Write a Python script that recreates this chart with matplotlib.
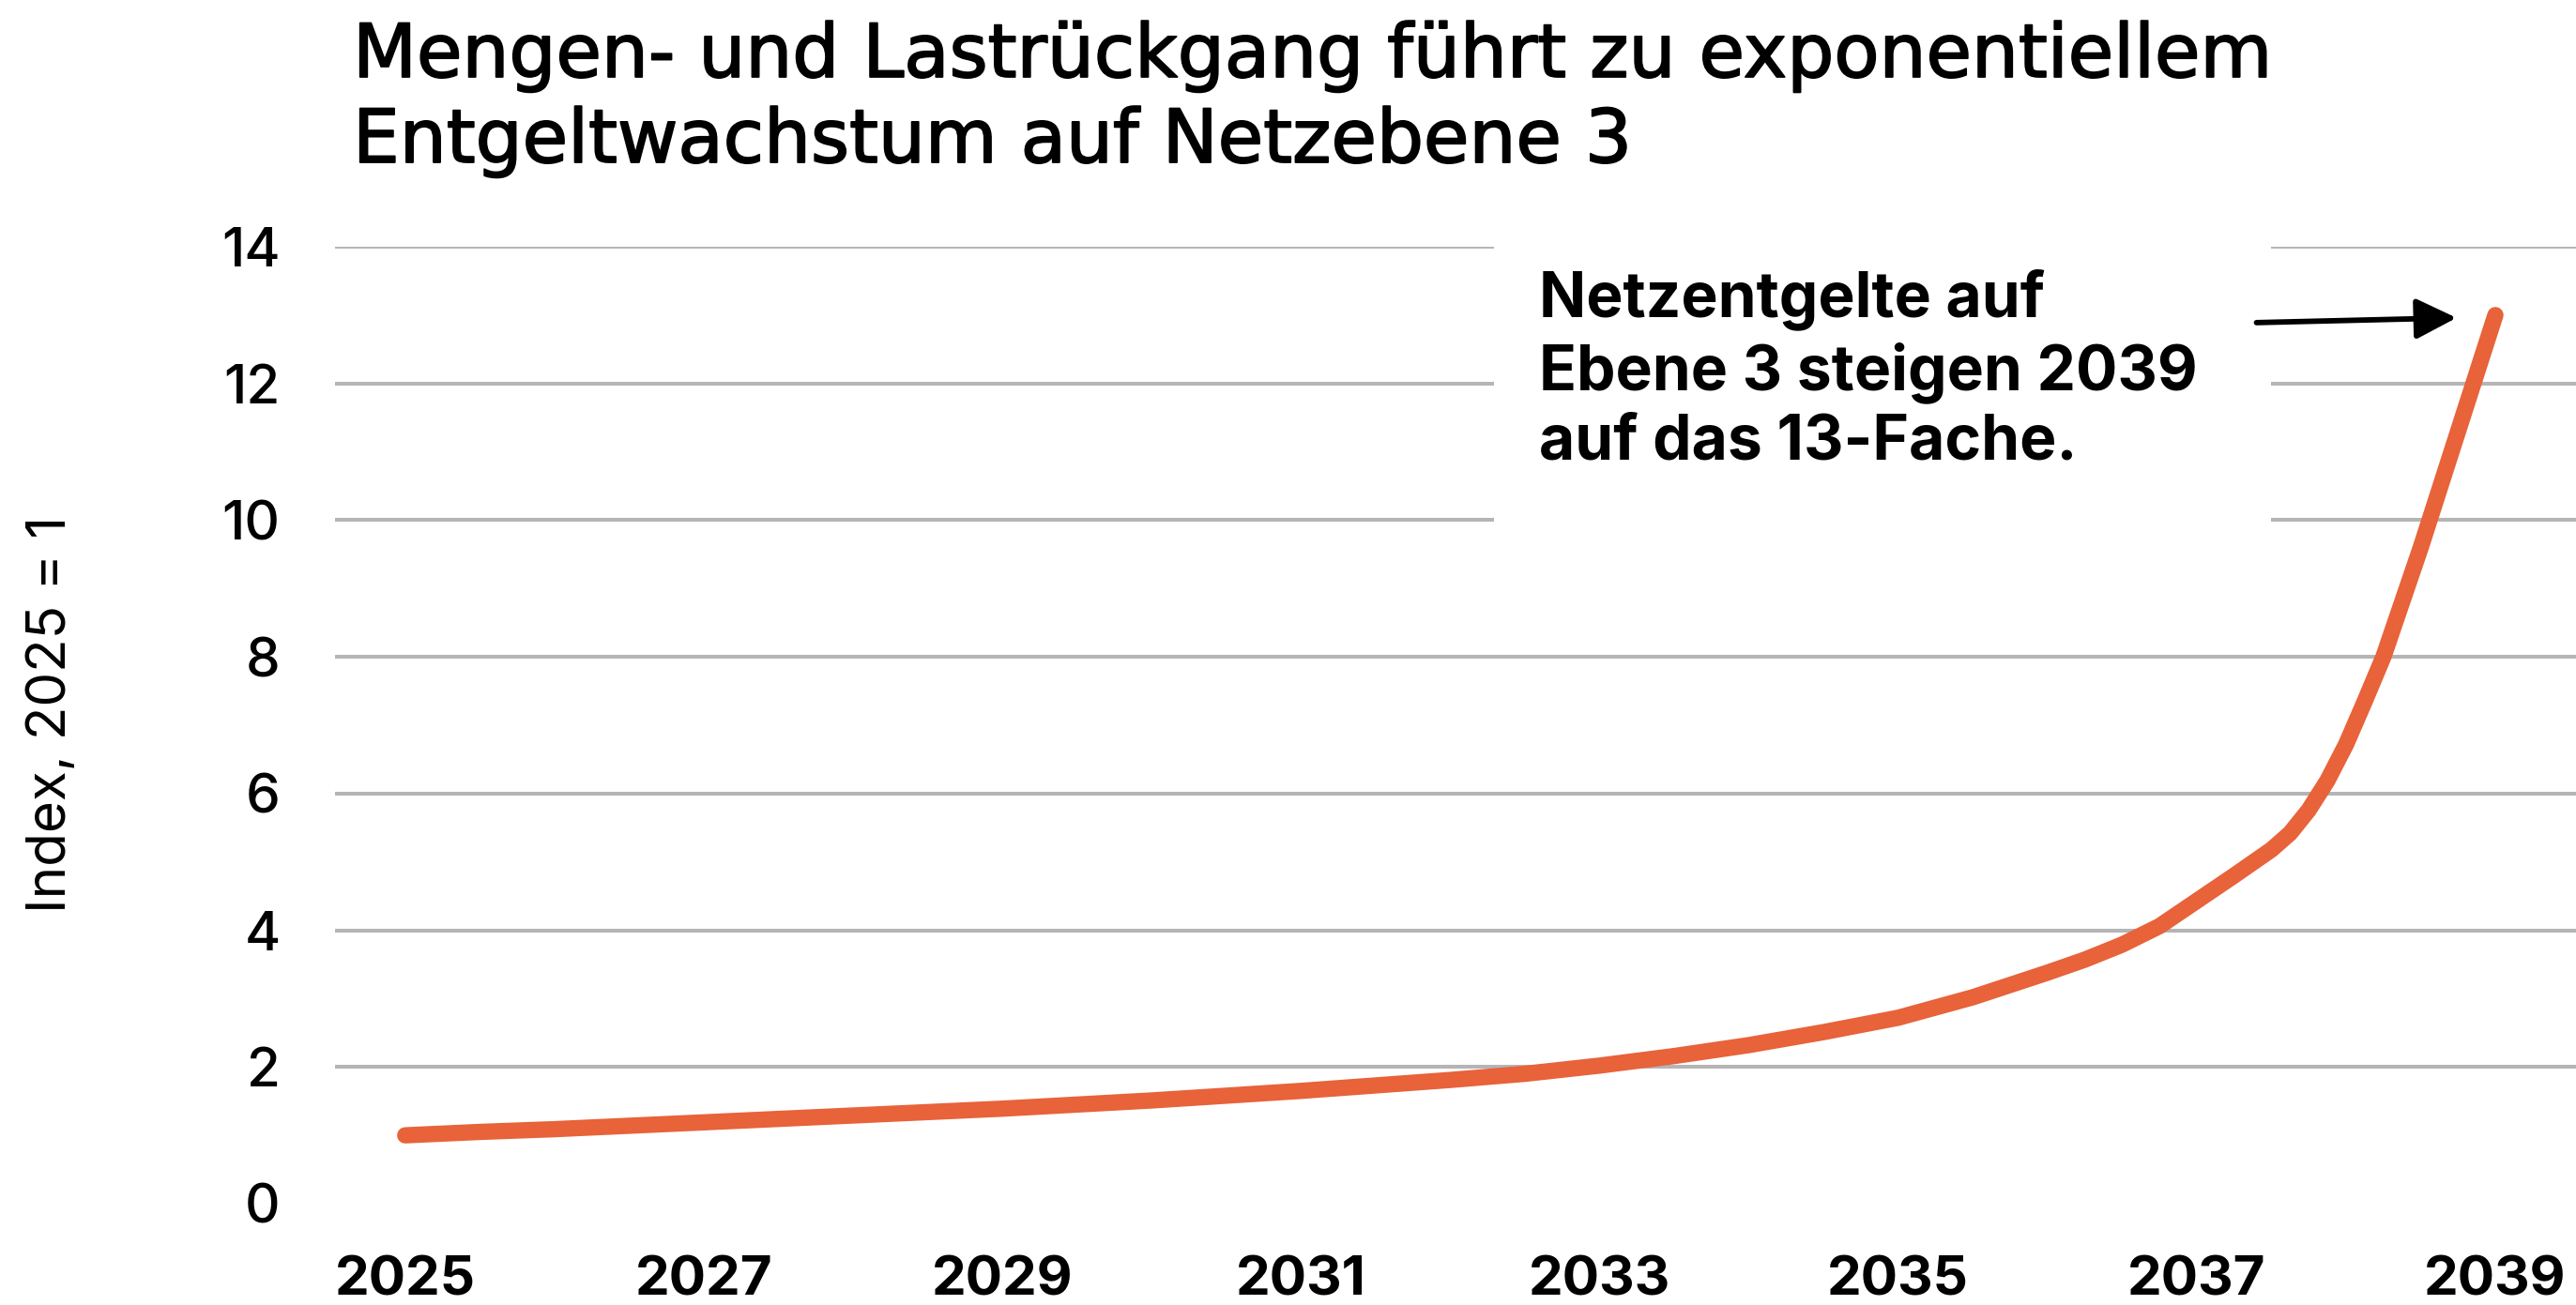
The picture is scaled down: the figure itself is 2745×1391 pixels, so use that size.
import matplotlib
matplotlib.use("Agg")
import matplotlib.pyplot as plt
import matplotlib.patheffects as pe
from matplotlib.patches import Rectangle

# ---- data ----
years = [2025.0, 2025.5, 2026.0, 2026.5, 2027.0, 2027.5, 2028.0, 2028.5,
         2029.0, 2029.5, 2030.0, 2030.5, 2031.0, 2031.5, 2032.0, 2032.5,
         2033.0, 2033.5, 2034.0, 2034.5, 2035.0, 2035.25, 2035.5, 2035.75,
         2036.0, 2036.25, 2036.5, 2036.75, 2037.0, 2037.25, 2037.5, 2037.625,
         2037.75, 2037.875, 2038.0, 2038.125, 2038.25, 2038.375, 2038.5,
         2038.625, 2038.75, 2038.875, 2039.0]
index_vals = [1.00, 1.05, 1.09, 1.14, 1.19, 1.24, 1.29, 1.34,
              1.39, 1.45, 1.51, 1.58, 1.65, 1.73, 1.81, 1.90,
              2.02, 2.16, 2.32, 2.51, 2.72, 2.87, 3.02, 3.20,
              3.38, 3.57, 3.79, 4.06, 4.43, 4.80, 5.18, 5.42,
              5.76, 6.19, 6.72, 7.35, 8.00, 8.80, 9.60,
              10.45, 11.30, 12.15, 13.00]
xtick_years = [2025, 2027, 2029, 2031, 2033, 2035, 2037, 2039]
yticks = [0, 2, 4, 6, 8, 10, 12, 14]

title_lines = ["Mengen- und Lastrückgang führt zu exponentiellem",
               "Entgeltwachstum auf Netzebene 3"]
ylabel = "Index, 2025 = 1"
note_lines = ["Netzentgelte auf", "Ebene 3 steigen 2039", "auf das 13-Fache."]

plt.rcParams['font.family'] = ['Inter', 'DejaVu Sans']

W, H, DPI = 2745, 1391, 100
fig = plt.figure(figsize=(W / DPI, H / DPI), dpi=DPI)
ax = fig.add_axes([357 / W, (H - 1283) / H, 1 - 357 / W, (1283 - 263) / H])

line_color = "#E8623A"
ax.plot(years, index_vals, color=line_color, lw=12.5, solid_capstyle='round',
        solid_joinstyle='round', zorder=3)

ax.set_xlim(2024.53, 2039.54)
ax.set_ylim(0, 14)
ax.set_xticks(xtick_years)
ax.set_xticklabels([str(y) for y in xtick_years], fontsize=42, fontweight='bold')
ax.set_yticks(yticks)
ax.set_yticklabels([str(v) for v in yticks], fontsize=42, fontweight='medium')
ax.tick_params(axis='both', length=0)
ax.tick_params(axis='y', pad=42)
ax.tick_params(axis='x', pad=40)
for s in ax.spines.values():
    s.set_visible(False)

# gridlines (no line at 0)
for v in yticks[1:]:
    ax.axhline(v, color="#B5B5B5", lw=2.9, zorder=1)

# white box behind annotation
ax.add_patch(Rectangle((2032.29, 9.2), 2037.50 - 2032.29, 5.6, facecolor='white',
                       edgecolor='none', zorder=2, clip_on=False))

ax.annotate('', xy=(2038.74, 12.96), xytext=(2037.40, 12.89),
            arrowprops=dict(arrowstyle='-|>,head_length=0.44,head_width=0.22',
                            mutation_scale=60, lw=4.2, color='black',
                            shrinkA=0, shrinkB=0), zorder=5)

renderer = fig.canvas.get_renderer()


def fit(texts, target_width, ref_index=0):
    w = texts[ref_index].get_window_extent(renderer).width
    for t in texts:
        t.set_fontsize(t.get_fontsize() * target_width / w)


# title (medium weight emulated with a thin outline)
medium = [pe.withStroke(linewidth=1.3, foreground='black')]
t1 = fig.text(376 / W, 1 - 82 / H, title_lines[0], fontsize=50,
              family=['DejaVu Sans'], ha='left', va='baseline', path_effects=medium)
t2 = fig.text(376 / W, 1 - 173 / H, title_lines[1], fontsize=50,
              family=['DejaVu Sans'], ha='left', va='baseline', path_effects=medium)
fit([t1, t2], 2048)

# annotation
note_baselines = [337, 415, 490]
notes = [fig.text(1640 / W, 1 - b / H, s, fontsize=44, fontweight='bold',
                  ha='left', va='baseline') for s, b in zip(note_lines, note_baselines)]
fit(notes, 702, ref_index=1)

fig.text(55 / W, 1 - 761 / H, ylabel, fontsize=42, rotation=90,
         ha='center', va='center')

fig.savefig("out.png", dpi=DPI, facecolor='white')
